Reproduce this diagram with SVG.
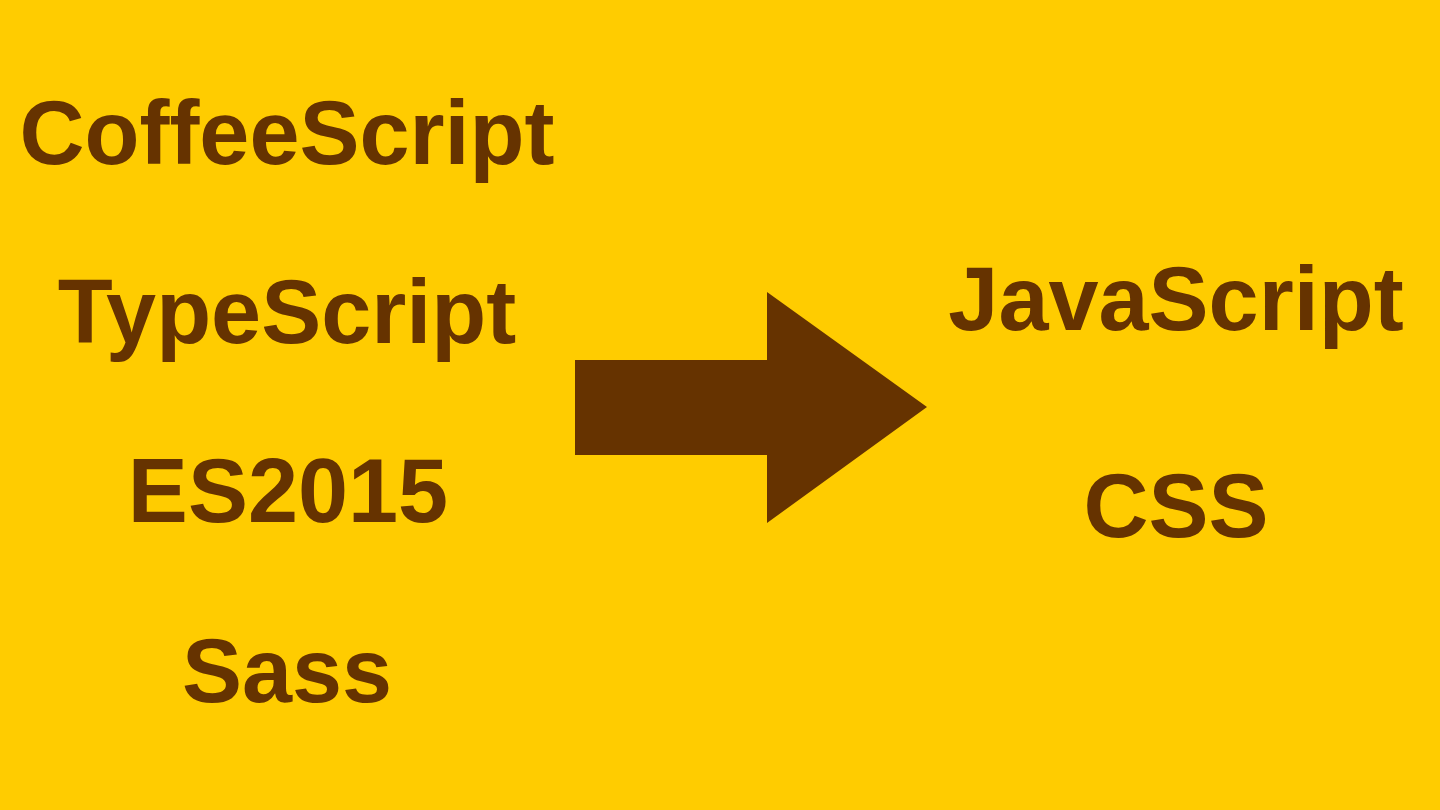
<svg xmlns="http://www.w3.org/2000/svg" width="1440" height="810" viewBox="0 0 1440 810">
<style>
.t{font-family:"Liberation Sans",Arial,sans-serif;font-weight:bold;font-size:90px;fill:#663300;text-anchor:middle}
</style>
<rect x="0" y="0" width="1440" height="810" fill="#FFCC00"/>
<g id="coffeescript"><text class="t" x="287" y="164">CoffeeScript</text></g>
<g id="typescript"><text class="t" x="287" y="343">TypeScript</text></g>
<g id="es2015"><text class="t" x="288" y="522">ES2015</text></g>
<g id="sass"><text class="t" x="287" y="702">Sass</text></g>
<g id="javascript"><text class="t" x="1176" y="330">JavaScript</text></g>
<g id="css"><text class="t" x="1176" y="537">CSS</text></g>
<g id="connectors">
<polygon points="575,360 767,360 767,292 927,407 767,523 767,455 575,455" fill="#663300"/>
</g>
</svg>
